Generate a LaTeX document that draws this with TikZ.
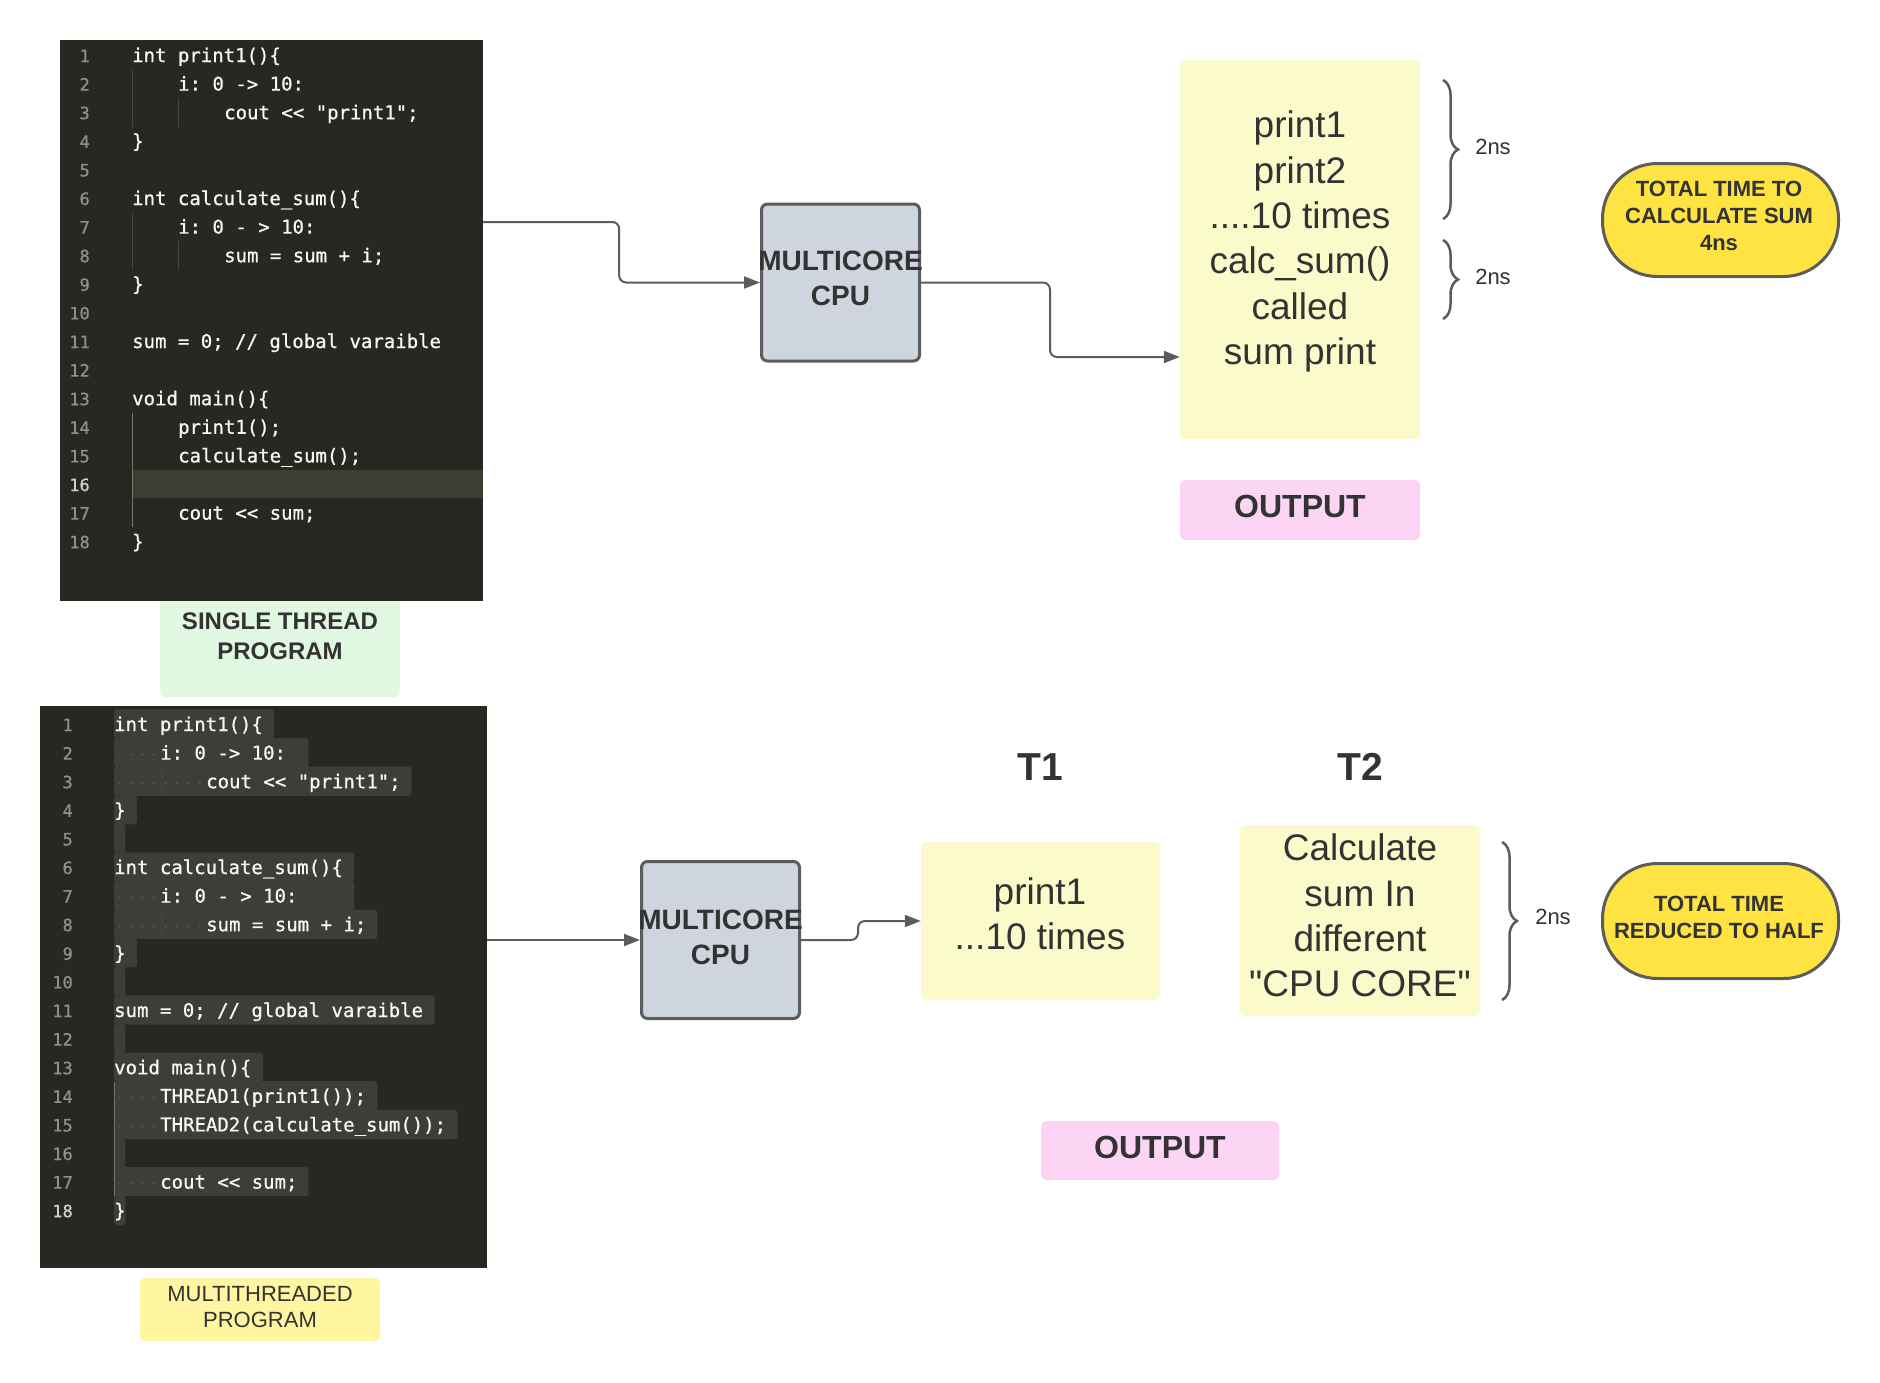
\documentclass[tikz,border=0pt]{standalone}
\usepackage{fontspec}
\setmainfont{Liberation Sans}
\setmonofont[FakeBold=0.8]{DejaVu Sans Mono}
\usetikzlibrary{arrows.meta,decorations.pathreplacing}

\definecolor{codebg}{HTML}{272822}
\definecolor{codefg}{HTML}{F8F8F2}
\definecolor{gutterc}{HTML}{90908A}
\definecolor{gutteron}{HTML}{D0D0CA}
\definecolor{curline}{HTML}{3E3D32}
\definecolor{selbg}{HTML}{3E3E39}
\definecolor{wsdot}{HTML}{5A5A54}
\definecolor{guidefaint}{HTML}{45453F}
\definecolor{guideon}{HTML}{75756F}
\definecolor{ink}{HTML}{333333}
\definecolor{wire}{HTML}{5C5C5C}
\definecolor{cpufill}{HTML}{CFD5DE}
\definecolor{outfill}{HTML}{FBFACB}
\definecolor{pinkfill}{HTML}{FDD5F4}
\definecolor{greenfill}{HTML}{E1F8E2}
\definecolor{yellowlabel}{HTML}{FEF6A0}
\definecolor{sunfill}{HTML}{FFE343}

% one line of source code: prefix, x of column 0, y of line 1, line number, indent level, text
\newcommand\codeln[6]{\node[codetext] (#1#4) at ({#2+46*#5},{#3+(#4-1)*28.6+7}) {#6};}

\begin{document}
\begin{tikzpicture}[x=1pt,y=-1pt,
  codebox/.style={rectangle, fill=codebg, inner sep=0},
  codetext/.style={anchor=base west, inner sep=0, text=codefg, font=\ttfamily\fontsize{19}{22}\selectfont},
  gutter/.style={anchor=base east, inner sep=0, font=\ttfamily\fontsize{17}{22}\selectfont},
  lblbox/.style={rectangle, rounded corners=5pt, inner sep=0},
  plain/.style={inner sep=0, align=center, text=ink},
  cpubox/.style={rectangle, draw=wire, line width=3pt, fill=cpufill, rounded corners=6pt,
    minimum width=158, minimum height=157, inner sep=0},
  cputext/.style={plain, font=\bfseries\fontsize{28}{35}\selectfont},
  sunbox/.style={rectangle, draw=wire, line width=3pt, fill=sunfill, rounded corners=55pt, inner sep=0},
  suntext/.style={plain, font=\bfseries\fontsize{22}{27}\selectfont},
  bigtext/.style={plain, font=\fontsize{37}{45.3}\selectfont},
  outtext/.style={plain, font=\bfseries\fontsize{32}{36}\selectfont},
  nstext/.style={plain, font=\fontsize{22}{26}\selectfont},
  wire/.style={draw=wire, line width=2pt, rounded corners=7pt,
    -{Triangle[length=16pt,width=12pt]}},
  bracepath/.style={draw=wire, line width=2.5pt, decorate,
    decoration={brace, amplitude=15pt}}
]
\useasboundingbox (0,0) rectangle (1880,1382);
\fill[white] (0,0) rectangle (1880,1382);

% ---------- captions under the listings ----------
\node[lblbox, fill=greenfill, minimum width=240, minimum height=107] (stbox) at (280,643.5) {};
\node[plain, font=\bfseries\fontsize{24}{30}\selectfont] (sttext) at (280,636) {SINGLE THREAD\\PROGRAM};
\node[lblbox, fill=yellowlabel, minimum width=240, minimum height=63] (mtbox) at (260,1309.5) {};
\node[plain, font=\fontsize{22}{26}\selectfont] (mttext) at (260,1307) {MULTITHREADED\\PROGRAM};

% ---------- single thread listing ----------
\node[codebox, minimum width=423, minimum height=561] (codeA) at (271.5,320.5) {};
\fill[curline] (132,470) rectangle (483,498);
\draw[guidefaint, line width=1.2pt] (132.5,69.3) -- (132.5,126.5) (132.5,212.3) -- (132.5,269.5)
  (178.5,98.3) -- (178.5,126.5) (178.5,240.9) -- (178.5,269.5);
\draw[guideon, line width=1.2pt] (132.5,412.5) -- (132.5,526.9);
\foreach \n in {1,...,18}{%
  \ifnum\n=16 \def\gc{gutteron}\else\def\gc{gutterc}\fi
  \node[gutter, text=\gc] (an\n) at (90,{55+(\n-1)*28.6+7}) {\n};}
\codeln{a}{132}{55}{1}{0}{int print1()\{}
\codeln{a}{132}{55}{2}{1}{i: 0 -> 10:}
\codeln{a}{132}{55}{3}{2}{cout << "print1";}
\codeln{a}{132}{55}{4}{0}{\}}
\codeln{a}{132}{55}{6}{0}{int calculate\_sum()\{}
\codeln{a}{132}{55}{7}{1}{i: 0 - > 10:}
\codeln{a}{132}{55}{8}{2}{sum = sum + i;}
\codeln{a}{132}{55}{9}{0}{\}}
\codeln{a}{132}{55}{11}{0}{sum = 0; // global varaible}
\codeln{a}{132}{55}{13}{0}{void main()\{}
\codeln{a}{132}{55}{14}{1}{print1();}
\codeln{a}{132}{55}{15}{1}{calculate\_sum();}
\codeln{a}{132}{55}{17}{1}{cout << sum;}
\codeln{a}{132}{55}{18}{0}{\}}

% ---------- multithreaded listing (whole text selected) ----------
\node[codebox, minimum width=447, minimum height=562] (codeB) at (263.5,987) {};
\foreach \w [count=\n] in {14,17,26,2,1,21,21,23,2,1,28,1,13,23,30,1,17,1}
  \fill[selbg, rounded corners=3pt] (114,{724+(\n-1)*28.6-14.6}) rectangle ({114+\w*11.45},{724+(\n-1)*28.6+14.6});
\foreach \n/\k in {2/4,3/8,7/4,8/8,14/4,15/4,17/4}
  \foreach \j in {1,...,\k}
    \fill[wsdot] ({114+(\j-0.5)*11.45},{724+(\n-1)*28.6+2}) circle (1.1pt);
\draw[guidefaint, line width=1.2pt] (161.5,766.6) -- (161.5,795.2) (161.5,909) -- (161.5,938);
\draw[guideon, line width=1.2pt] (114.8,1081.5) -- (114.8,1195.9);
\foreach \n in {1,...,18}{%
  \ifnum\n=18 \def\gc{gutteron}\else\def\gc{gutterc}\fi
  \node[gutter, text=\gc] (bn\n) at (73,{724+(\n-1)*28.6+7}) {\n};}
\codeln{b}{114}{724}{1}{0}{int print1()\{}
\codeln{b}{114}{724}{2}{1}{i: 0 -> 10:}
\codeln{b}{114}{724}{3}{2}{cout << "print1";}
\codeln{b}{114}{724}{4}{0}{\}}
\codeln{b}{114}{724}{6}{0}{int calculate\_sum()\{}
\codeln{b}{114}{724}{7}{1}{i: 0 - > 10:}
\codeln{b}{114}{724}{8}{2}{sum = sum + i;}
\codeln{b}{114}{724}{9}{0}{\}}
\codeln{b}{114}{724}{11}{0}{sum = 0; // global varaible}
\codeln{b}{114}{724}{13}{0}{void main()\{}
\codeln{b}{114}{724}{14}{1}{THREAD1(print1());}
\codeln{b}{114}{724}{15}{1}{THREAD2(calculate\_sum());}
\codeln{b}{114}{724}{17}{1}{cout << sum;}
\codeln{b}{114}{724}{18}{0}{\}}

% ---------- single thread flow ----------
\node[cpubox] (cpuA) at (840.5,282.5) {};
\node[cputext] (cpuAtext) at (840.5,278.5) {MULTICORE\\CPU};
\node[lblbox, fill=outfill, minimum width=240, minimum height=379] (outA) at (1300,249.5) {};
\node[bigtext] (outAtext) at (1300,241.5) {print1\\print2\\....10 times\\calc\_sum()\\called\\sum print};
\node[lblbox, fill=pinkfill, minimum width=240, minimum height=60] (outAlbl) at (1300,510) {};
\node[outtext] (outAlbltext) at (1300,506) {OUTPUT};

\draw[wire] ([yshift=98.5pt]codeA.east) -- ++(136,0) |- (cpuA.west);
\draw[wire] (cpuA.east) -- ++(129,0) |- ([yshift=-107.5pt]outA.west);

\draw[bracepath] (1443,80) -- (1443,219);
\draw[bracepath] (1443,240) -- (1443,319);
\node[nstext] (nsA1) at (1493,147) {2ns};
\node[nstext] (nsA2) at (1493,277) {2ns};

\node[sunbox, minimum width=236, minimum height=113] (totA) at (1720.5,220) {};
\node[suntext] (totAtext) at (1719,216) {TOTAL TIME TO\\CALCULATE SUM\\4ns};

% ---------- multithreaded flow ----------
\node[cpubox] (cpuB) at (720.5,940) {};
\node[cputext] (cpuBtext) at (720.5,937) {MULTICORE\\CPU};

\node[plain, font=\bfseries\fontsize{39}{44}\selectfont] (t1lbl) at (1040,767) {T1};
\node[plain, font=\bfseries\fontsize{39}{44}\selectfont] (t2lbl) at (1360,767) {T2};

\node[lblbox, fill=outfill, minimum width=239, minimum height=158] (t1box) at (1040.5,921) {};
\node[bigtext] (t1text) at (1040,914) {print1\\...10 times};
\node[lblbox, fill=outfill, minimum width=240, minimum height=191] (t2box) at (1360,920.5) {};
\node[bigtext] (t2text) at (1360,915.5) {Calculate\\sum In\\different\\\textquotedbl CPU CORE\textquotedbl};

\draw[wire] ([yshift=47pt]codeB.east) -- (cpuB.west);
\draw[wire] (cpuB.east) -- ++(57,0) |- (t1box.west);

\draw[bracepath] (1502,842) -- (1502,1000);
\node[nstext] (nsB) at (1553,917) {2ns};

\node[sunbox, minimum width=236, minimum height=115] (totB) at (1720.5,921) {};
\node[suntext] (totBtext) at (1719,917.5) {TOTAL TIME\\REDUCED TO HALF};

\node[lblbox, fill=pinkfill, minimum width=238, minimum height=59] (outBlbl) at (1160,1150.5) {};
\node[outtext] (outBlbltext) at (1160,1147) {OUTPUT};
\end{tikzpicture}
\end{document}
